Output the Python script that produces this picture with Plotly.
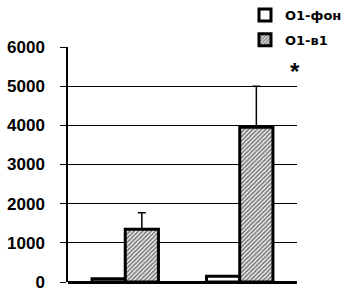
import plotly.graph_objects as go

categories = ["A", "B"]
series_names = ["O1-фон", "O1-в1"]
fon_values = [80, 150]
v1_values = [1350, 3950]
v1_errors = [420, 1050]
y_ticks = [0, 1000, 2000, 3000, 4000, 5000, 6000]

tick_font = dict(family="Liberation Sans, Arial, sans-serif", size=17, color="black", weight="bold")
legend_font = dict(family="DejaVu Sans, sans-serif", size=13, color="black", weight="bold")

fig = go.Figure()
fig.add_trace(go.Bar(
    x=categories, y=fon_values, name=series_names[0], legendgroup="a",
    marker=dict(color="white", line=dict(color="black", width=3)),
))
fig.add_trace(go.Bar(
    x=categories, y=v1_values, name=series_names[1], legendgroup="b",
    marker=dict(color="white", line=dict(color="black", width=3),
                pattern=dict(shape="/", size=3, solidity=0.6, fgcolor="black", bgcolor="white")),
    error_y=dict(type="data", array=v1_errors, symmetric=False, arrayminus=[0, 0],
                 color="black", thickness=1.5, width=4),
))

fig.update_layout(
    width=350, height=297,
    margin=dict(l=68, r=53, t=47, b=15, autoexpand=False),
    plot_bgcolor="white", paper_bgcolor="white",
    barmode="group", bargap=0.42, bargroupgap=0,
    font=tick_font,
    showlegend=True,
    legend=dict(xref="container", yref="container", x=0.70, y=1.0,
                xanchor="left", yanchor="top",
                font=legend_font, tracegroupgap=5, itemwidth=30,
                bgcolor="rgba(0,0,0,0)"),
    xaxis=dict(range=[-0.5, 1.5], showticklabels=False, showgrid=False, zeroline=False,
               showline=False, ticks=""),
    yaxis=dict(range=[0, 6000], tickvals=y_ticks, showgrid=True, gridcolor="black", gridwidth=1,
               zeroline=True, zerolinecolor="black", zerolinewidth=2.5,
               showline=True, linecolor="black", linewidth=1.5,
               ticks="outside", ticklen=6, tickcolor="black", tickwidth=1,
               ticklabelstandoff=12, tickfont=tick_font),
    annotations=[dict(x=1.48, y=5370, xref="x", yref="y", text="*", showarrow=False,
                      font=dict(family="Liberation Sans, Arial, sans-serif", size=24,
                                color="black", weight="bold"))],
)

fig.write_html("out.html", config={"displayModeBar": False},
               post_script="document.body.style.margin='0';")
